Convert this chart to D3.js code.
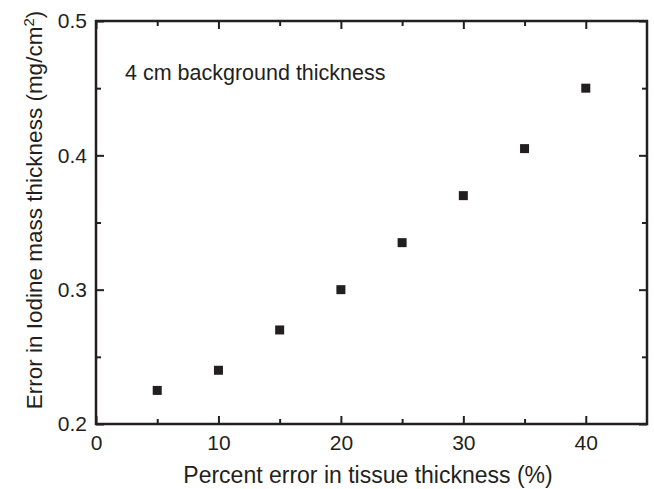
<!DOCTYPE html>
<html><head><meta charset="utf-8">
<script src="https://cdn.jsdelivr.net/npm/d3@7"></script>
<style>body{margin:0;background:#fff;} text{font-family:"Liberation Sans",Arial,sans-serif;fill:#231f20;}</style>
</head><body><svg id="c" width="654" height="489"></svg>
<script>
const xValues = [5, 10, 15, 20, 25, 30, 35, 40];
const yValues = [0.225, 0.24, 0.27, 0.30, 0.335, 0.37, 0.405, 0.45];
const xTicks = [0, 10, 20, 30, 40];
const xMinor = [5, 15, 25, 35];
const yTicks = [0.2, 0.3, 0.4, 0.5];
const yMinor = [0.25, 0.35, 0.45];

const svg = d3.select("#c");
const L = 96, R = 647, T = 21, B = 424;
const x = d3.scaleLinear().domain([0, 45]).range([L, R]);
const y = d3.scaleLinear().domain([0.2, 0.5]).range([B, T]);
const col = "#231f20";

function axis(gen, tr, len, vals, labels, pad) {
  const g = svg.append("g").attr("transform", tr)
    .call(gen.tickValues(vals).tickSizeInner(len).tickSizeOuter(0).tickPadding(pad || 8)
      .tickFormat(labels ? (d => d3.format("")(d)) : () => ""));
  g.select(".domain").remove();
  g.selectAll(".tick line").attr("stroke", col).attr("stroke-width", 2);
  g.selectAll(".tick text").attr("font-size", 21).style("fill", col);
  return g;
}
// bottom
axis(d3.axisBottom(x), `translate(0,${B})`, -8, xTicks, true, 11);
axis(d3.axisBottom(x), `translate(0,${B})`, -5, xMinor, false);
// top
axis(d3.axisTop(x), `translate(0,${T})`, -8, xTicks, false);
axis(d3.axisTop(x), `translate(0,${T})`, -5, xMinor, false);
// left
axis(d3.axisLeft(y), `translate(${L},0)`, -8, yTicks, true, 9).selectAll(".tick text").text(d => d3.format(".1f")(d));
axis(d3.axisLeft(y), `translate(${L},0)`, -5, yMinor, false);
// right
axis(d3.axisRight(y), `translate(${R},0)`, -8, yTicks, false);
axis(d3.axisRight(y), `translate(${R},0)`, -5, yMinor, false);

svg.append("rect").attr("x", L).attr("y", T).attr("width", R - L).attr("height", B - T)
  .attr("fill", "none").attr("stroke", col).attr("stroke-width", 2.5);

svg.append("g").selectAll("rect").data(xValues.map((v, i) => [v, yValues[i]])).join("rect")
  .attr("x", d => x(d[0]) - 4.5).attr("y", d => y(d[1]) - 4.5)
  .attr("width", 9).attr("height", 9).attr("fill", col);

svg.append("text").attr("x", 125).attr("y", 80).attr("font-size", 21.5)
  .text("4 cm background thickness");

svg.append("text").attr("x", 368).attr("y", 483).attr("text-anchor", "middle")
  .attr("font-size", 23).text("Percent error in tissue thickness (%)");

const yl = svg.append("text").attr("transform", `translate(42,210) rotate(-90)`)
  .attr("text-anchor", "middle").attr("font-size", 22.5);
yl.append("tspan").text("Error in Iodine mass thickness (mg/cm");
yl.append("tspan").attr("dy", -8).attr("font-size", 15).text("2");
yl.append("tspan").attr("dy", 8).text(")");
</script></body></html>
